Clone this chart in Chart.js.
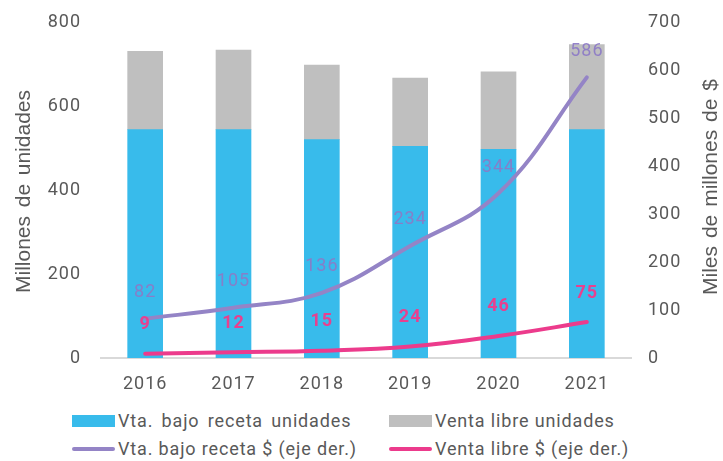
<!DOCTYPE html>
<html><head><meta charset="utf-8">
<script src="https://cdn.jsdelivr.net/npm/chart.js@4"></script>
<style>
body{margin:0;background:#fff;}
#wrap{position:relative;width:723px;height:461px;overflow:hidden;}
#c{position:absolute;left:0;top:0;}
.item{position:absolute;font:18px Roboto;color:#595959;white-space:pre;line-height:20px;letter-spacing:0.85px;}
.sw{position:absolute;}
</style></head>
<body>
<div id="wrap"><canvas id="c" width="723" height="400"></canvas><div id="legend"></div></div>
<script>
const categories = ['2016','2017','2018','2019','2020','2021'];
const recetaUnidades = [545, 545, 521, 505, 498, 545];
const libreUnidades = [187, 190, 178, 163, 185, 203];
const recetaPesos = [82, 105, 136, 234, 344, 586];
const librePesos = [9, 12, 15, 24, 46, 75];
const leftTicks = [0, 200, 400, 600, 800];
const rightTicks = [0, 100, 200, 300, 400, 500, 600, 700];
const leftTitle = 'Millones de unidades';
const rightTitle = 'Miles de millones de $';
const seriesNames = ['Vta. bajo receta unidades','Venta libre unidades','Vta. bajo receta $ (eje der.)','Venta libre $ (eje der.)'];
const colors = ['#38bbeb','#bfbfbf','#9484c6','#ec3b8c'];
const textColor = '#595959';
const font = {family:'Roboto', size:18};

const spacingPlugin = {
  id:'spacing',
  beforeLayout(chart){ chart.ctx.letterSpacing = '1px'; },
  beforeDraw(chart){ chart.ctx.letterSpacing = '1px'; }
};

// draws a rotated (bottom-to-top) title whose words are spread to span a given length
function drawJustified(ctx, text, x, yBottom, length){
  const words = text.split(' ');
  const widths = words.map(w=>ctx.measureText(w).width);
  const total = widths.reduce((a,b)=>a+b,0);
  const gap = (length - total)/(words.length-1);
  ctx.save();
  ctx.translate(x, yBottom);
  ctx.rotate(-Math.PI/2);
  let pos = 0;
  words.forEach((w,i)=>{ ctx.fillText(w, pos, 0); pos += widths[i] + gap; });
  ctx.restore();
}

const labelPlugin = {
  id:'lineLabels',
  afterDatasetsDraw(chart){
    const ctx = chart.ctx;
    chart.data.datasets.forEach((ds,i)=>{
      if(ds.type!=='line') return;
      const meta = chart.getDatasetMeta(i);
      ctx.save();
      ctx.font = (ds.labelBold?'bold ':'') + '18px Roboto';
      ctx.fillStyle = ds.labelColor;
      ctx.textAlign='center'; ctx.textBaseline='middle';
      meta.data.forEach((pt,j)=>{
        ctx.fillText(String(ds.data[j]), pt.x, pt.y - ds.labelOffset);
      });
      ctx.restore();
    });
  },
  afterDraw(chart){
    const ctx = chart.ctx;
    ctx.save();
    ctx.font = '21px "Liberation Sans"';
    ctx.letterSpacing = '0px';
    ctx.fillStyle = textColor;
    ctx.textAlign='left'; ctx.textBaseline='middle';
    drawJustified(ctx, leftTitle, 24, 293, 203);
    drawJustified(ctx, rightTitle, 711, 295, 216);
    ctx.restore();
  }
};

const chart = new Chart(document.getElementById('c'), {
  data:{
    labels: categories,
    datasets:[
      {type:'bar', label:seriesNames[0], data:recetaUnidades, backgroundColor:colors[0], yAxisID:'y', order:2, barThickness:35},
      {type:'bar', label:seriesNames[1], data:libreUnidades, backgroundColor:colors[1], yAxisID:'y', order:2, barThickness:35},
      {type:'line', label:seriesNames[2], data:recetaPesos, borderColor:colors[2], borderWidth:4, pointRadius:0, tension:0.4, yAxisID:'y1', order:1, borderCapStyle:'round', labelColor:'rgba(140,122,198,0.92)', labelBold:false, labelOffset:26},
      {type:'line', label:seriesNames[3], data:librePesos, borderColor:colors[3], borderWidth:4, pointRadius:0, tension:0.4, yAxisID:'y1', order:1, borderCapStyle:'round', labelColor:'#e8408f', labelBold:true, labelOffset:29}
    ]
  },
  options:{
    responsive:false, animation:false,
    layout:{padding:{top:15,left:0,right:0,bottom:0}},
    plugins:{legend:{display:false}, tooltip:{enabled:false}},
    scales:{
      x:{stacked:true, grid:{display:false, drawTicks:false}, border:{display:true, color:'#d9d9d9', width:2},
         ticks:{color:textColor, font:font, padding:16},
         afterFit(s){ s.height = 42; }},
      y:{stacked:true, position:'left', min:0, max:800, grid:{display:false}, border:{display:false},
         afterBuildTicks(s){ s.ticks = leftTicks.map(v=>({value:v})); },
         ticks:{color:textColor, font:font, padding:12},
         afterFit(s){ s.width = 101; }},
      y1:{stacked:false, position:'right', min:0, max:700, grid:{display:false}, border:{display:false},
         afterBuildTicks(s){ s.ticks = rightTicks.map(v=>({value:v})); },
         ticks:{color:textColor, font:font, padding:9},
         afterFit(s){ s.width = 92; }}
    }
  },
  plugins:[spacingPlugin, labelPlugin]
});

// legend built from datasets
const legendPos = [[72,421],[389,421],[72,449],[389,449]];
const legendWordSpacing = [3,0,0,0];
const leg = document.getElementById('legend');
chart.data.datasets.forEach((ds,i)=>{
  const [x,y] = legendPos[i];
  const sw = document.createElement('div');
  sw.className='sw';
  if(ds.type==='bar'){
    sw.style.cssText = `left:${x}px;top:${y-6}px;width:43px;height:12px;background:${ds.backgroundColor};`;
  } else {
    sw.style.cssText = `left:${x}px;top:${y-2}px;width:43px;height:4px;border-radius:2px;background:${ds.borderColor};`;
  }
  leg.appendChild(sw);
  const t = document.createElement('div');
  t.className='item';
  t.textContent = ds.label;
  t.style.left = (x+46)+'px';
  t.style.top = (y-10)+'px';
  t.style.wordSpacing = legendWordSpacing[i]+'px';
  leg.appendChild(t);
});
</script>
</body></html>
